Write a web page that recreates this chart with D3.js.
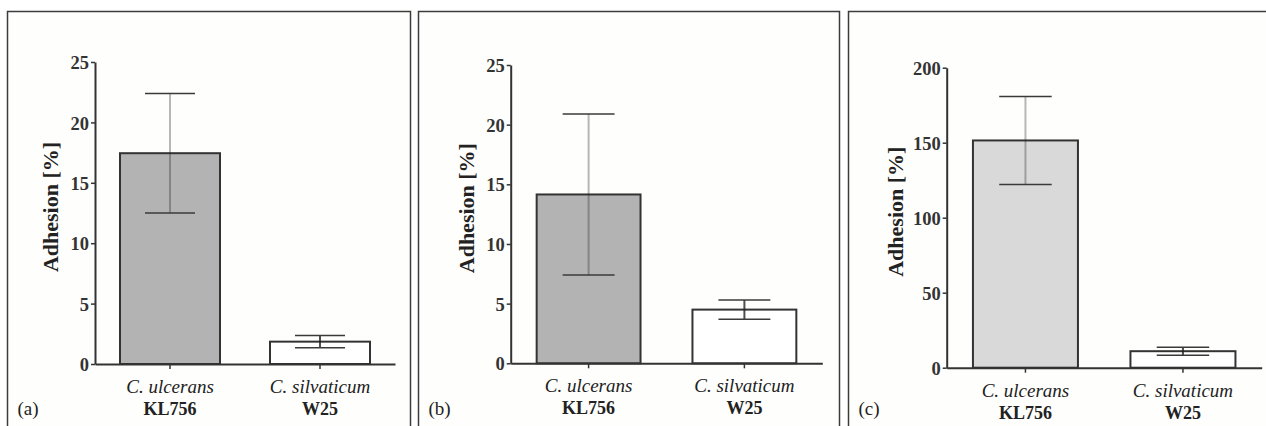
<!DOCTYPE html>
<html>
<head>
<meta charset="utf-8">
<script src="https://cdn.jsdelivr.net/npm/d3@7"></script>
<style>
  html, body { margin: 0; padding: 0; background: #ffffff; }
  svg { display: block; }
</style>
</head>
<body>
<svg id="chart" width="1266" height="426"></svg>
<script>
// ---- data ----
const categories = ["C. ulcerans KL756", "C. silvaticum W25"];
const speciesNames = ["C. ulcerans", "C. silvaticum"];
const strainNames = ["KL756", "W25"];
const panelLabels = ["(a)", "(b)", "(c)"];
const yLabel = "Adhesion [%]";

const meansA = [17.45, 1.85];
const errA   = [4.95, 0.5];
const meansB = [14.15, 4.5];
const errB   = [6.75, 0.8];
const meansC = [151.5, 11.0];
const errC   = [29.3, 2.7];

const ticksAB = [0, 5, 10, 15, 20, 25];
const ticksC  = [0, 50, 100, 150, 200];
const yMaxAB = 25;
const yMaxC  = 200;

// ---- layout ----
const panels = [
  { label: panelLabels[0], means: meansA, errs: errA, ticks: ticksAB, yMax: yMaxAB, fill: "#b3b3b3",
    box: [7.5, 11.5, 403, 430], axisX: 95, axisEnd: 395, yTop: 62, yBottom: 364, yLabelX: 50 },
  { label: panelLabels[1], means: meansB, errs: errB, ticks: ticksAB, yMax: yMaxAB, fill: "#b3b3b3",
    box: [418.5, 11.5, 421, 430], axisX: 510.7, axisEnd: 822.3, yTop: 65, yBottom: 363.3, yLabelX: 466 },
  { label: panelLabels[2], means: meansC, errs: errC, ticks: ticksC, yMax: yMaxC, fill: "#d9d9d9",
    box: [848.5, 11.5, 430, 430], axisX: 946.7, axisEnd: 1261.7, yTop: 67.7, yBottom: 367.7, yLabelX: 895 }
];

const svg = d3.select("#chart");
const serif = "'Liberation Serif', 'Times New Roman', serif";
const dark = "#333333";

panels.forEach(p => {
  const g = svg.append("g");

  // frame
  g.append("rect")
    .attr("x", p.box[0]).attr("y", p.box[1])
    .attr("width", p.box[2]).attr("height", p.box[3])
    .attr("fill", "#fefefc").attr("stroke", "#3c3c3c").attr("stroke-width", 1.5);

  const x = d3.scaleBand().domain(categories)
    .range([p.axisX, p.axisEnd]).paddingInner(1/3).paddingOuter(1/6);
  const y = d3.scaleLinear().domain([0, p.yMax]).range([p.yBottom, p.yTop]);

  const data = categories.map((c, i) => ({ cat: c, mean: p.means[i], err: p.errs[i], i }));

  // bars
  g.selectAll("rect.bar").data(data).enter().append("rect")
    .attr("class", "bar")
    .attr("x", d => x(d.cat))
    .attr("y", d => y(d.mean))
    .attr("width", x.bandwidth())
    .attr("height", d => y(0) - y(d.mean))
    .attr("fill", d => d.i === 0 ? p.fill : "#ffffff")
    .attr("stroke", dark).attr("stroke-width", 2);

  // error bars
  const eb = g.selectAll("g.err").data(data).enter().append("g").attr("class", "err");
  eb.append("line")
    .attr("x1", d => x(d.cat) + x.bandwidth() / 2)
    .attr("x2", d => x(d.cat) + x.bandwidth() / 2)
    .attr("y1", d => y(d.mean + d.err))
    .attr("y2", d => y(d.mean - d.err))
    .attr("stroke", "#222").attr("stroke-opacity", d => d.i === 0 ? 0.32 : 0.8)
    .attr("stroke-width", 2);
  ["+", "-"].forEach(s => {
    eb.append("line")
      .attr("x1", d => x(d.cat) + x.bandwidth() / 4)
      .attr("x2", d => x(d.cat) + x.bandwidth() * 3 / 4)
      .attr("y1", d => y(s === "+" ? d.mean + d.err : d.mean - d.err))
      .attr("y2", d => y(s === "+" ? d.mean + d.err : d.mean - d.err))
      .attr("stroke", "#3a3a3a").attr("stroke-width", 1.5);
  });

  // y axis
  const yAxis = g.append("g").attr("transform", `translate(${p.axisX},0)`)
    .call(d3.axisLeft(y).tickValues(p.ticks).tickSize(4).tickPadding(2).tickSizeOuter(0));
  yAxis.select(".domain").attr("stroke", dark).attr("stroke-width", 2);
  yAxis.selectAll(".tick line").attr("stroke", dark).attr("stroke-width", 1.5);
  yAxis.selectAll(".tick text")
    .attr("font-family", serif).attr("font-weight", "bold").attr("font-size", 18.5)
    .attr("fill", dark).attr("dy", "0.36em");

  // x axis
  const xAxis = g.append("g").attr("transform", `translate(0,${p.yBottom})`)
    .call(d3.axisBottom(x).tickSize(5).tickSizeOuter(0).tickFormat(""));
  xAxis.select(".domain").attr("stroke", dark).attr("stroke-width", 2);
  xAxis.selectAll(".tick line").attr("stroke", dark).attr("stroke-width", 1.5);

  // category labels
  const cl = g.selectAll("g.cat").data(data).enter().append("g").attr("class", "cat")
    .attr("transform", d => `translate(${x(d.cat) + x.bandwidth() / 2},0)`);
  cl.append("text")
    .attr("y", p.yBottom + 29).attr("text-anchor", "middle")
    .attr("font-family", serif).attr("font-style", "italic").attr("font-size", 19)
    .attr("fill", "#222").text(d => speciesNames[d.i]);
  cl.append("text")
    .attr("y", p.yBottom + 51).attr("text-anchor", "middle")
    .attr("font-family", serif).attr("font-weight", "bold").attr("font-size", 18)
    .attr("fill", "#222").text(d => strainNames[d.i]);

  // y label
  g.append("text")
    .attr("transform", `translate(${p.yLabelX},${(p.yTop + p.yBottom) / 2 - 6}) rotate(-90)`)
    .attr("text-anchor", "middle").attr("dy", "0.35em")
    .attr("font-family", serif).attr("font-weight", "bold").attr("font-size", 22)
    .attr("fill", "#222").text(yLabel);

  // panel label
  g.append("text")
    .attr("x", p.box[0] + 10).attr("y", 415)
    .attr("font-family", serif).attr("font-size", 19).attr("fill", "#222")
    .text(p.label);
});
</script>
</body>
</html>
